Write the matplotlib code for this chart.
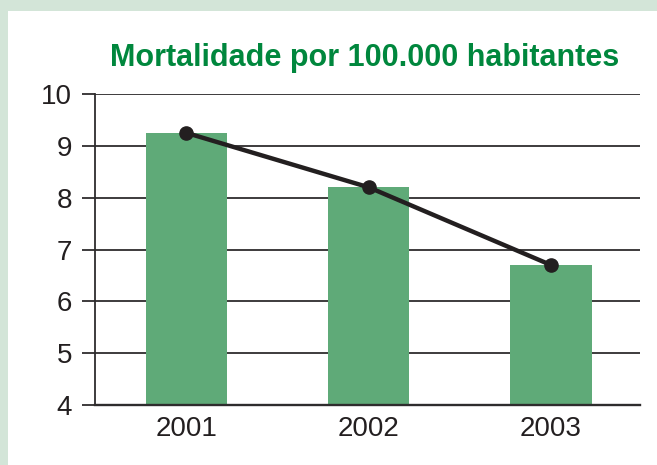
import matplotlib
matplotlib.use("Agg")
import matplotlib.pyplot as plt
from matplotlib.patches import Rectangle
from matplotlib import font_manager

years = ["2001", "2002", "2003"]
values = [9.25, 8.2, 6.7]
yticks = [4, 5, 6, 7, 8, 9, 10]
title = "Mortalidade por 100.000 habitantes"

names = {f.name for f in font_manager.fontManager.ttflist}
title_font = "Liberation Sans Narrow" if "Liberation Sans Narrow" in names else "Liberation Sans"

W, H = 657, 465
fig = plt.figure(figsize=(W / 100, H / 100), dpi=100)
fig.patch.set_facecolor("#d3e5d8")
fig.patches.append(Rectangle((8 / W, 0), 1 - 8 / W, (H - 11) / H,
                             transform=fig.transFigure, facecolor="white",
                             edgecolor="none", zorder=-5))

ax = fig.add_axes([95 / W, (H - 405) / H, (640 - 95) / W, (405 - 94) / H])
ax.set_zorder(3)
ax.set_facecolor("none")
x = list(range(len(years)))
ax.bar(x, values, width=0.445, color="#5faa78", zorder=2)
ax.plot(x, values, color="#231f20", lw=3.2, marker="o", markersize=9.5, zorder=3)

ax.set_ylim(4, 10)
ax.set_xlim(-0.501, 2.488)
ax.set_yticks(yticks)
ax.set_xticks(x)
ax.set_xticklabels(years)
ax.grid(axis="y", color="#2e2c2d", lw=1.3, zorder=1)
ax.set_axisbelow(True)
for s in ["top", "right"]:
    ax.spines[s].set_visible(False)
ax.spines["left"].set_color("#2e2c2d")
ax.spines["left"].set_linewidth(1.3)
ax.spines["bottom"].set_color("#2e2c2d")
ax.spines["bottom"].set_linewidth(1.7)
ax.tick_params(axis="y", length=9.4, width=1.3, color="#2e2c2d", pad=7,
               labelsize=20, labelcolor="#231f20")
ax.tick_params(axis="x", length=0, pad=8, labelsize=20, labelcolor="#231f20")
for lab in ax.get_xticklabels() + ax.get_yticklabels():
    lab.set_fontfamily("Liberation Sans")

fig.text(365 / W, (H - 66) / H, title, ha="center", va="baseline",
         color="#00873d", fontsize=22, fontweight="bold", fontfamily=title_font)

fig.savefig("out.png", dpi=100, facecolor=fig.get_facecolor())
